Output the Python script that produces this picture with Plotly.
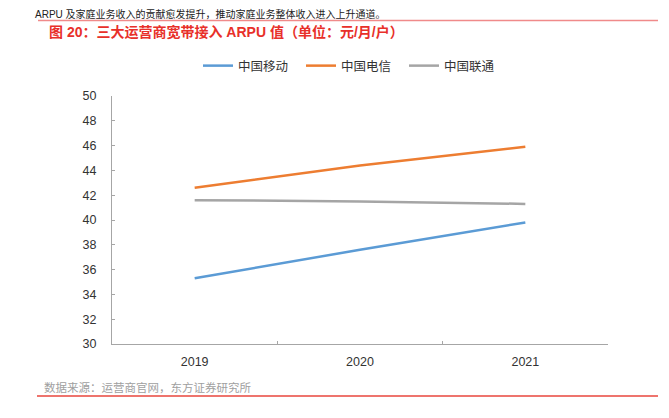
import plotly.graph_objects as go

years = ["2019", "2020", "2021"]
mobile = [35.3, 37.6, 39.8]
telecom = [42.6, 44.4, 45.9]
unicom = [41.6, 41.5, 41.3]

names = ["中国移动", "中国电信", "中国联通"]
line_colors = ["#5B9BD5", "#ED7D31", "#A5A5A5"]

# page has an 8px body margin, so everything is laid out 8px up/left
OFF = 8
W, H = 669 - OFF, 418 - OFF
L, R, T, B = 112 - OFF, 61, 96 - OFF, 74
pw, ph = W - L - R, H - T - B


def px_x(x):
    return (x - OFF - L) / pw


def px_y(y):
    return (H - B - (y - OFF)) / ph


fig = go.Figure()
for name, vals, c in zip(names, [mobile, telecom, unicom], line_colors):
    fig.add_trace(go.Scatter(x=years, y=vals, name=name, mode="lines",
                             line=dict(color=c, width=2.5)))

fig.update_layout(
    width=W, height=H,
    margin=dict(l=L, r=R, t=T, b=B),
    paper_bgcolor="white", plot_bgcolor="white",
    font=dict(family="Liberation Sans, Noto Sans CJK SC", size=12.5, color="#333333"),
    showlegend=True,
    legend=dict(orientation="h", x=px_x(198), xanchor="left",
                y=px_y(66), yanchor="middle", font=dict(size=12.5, color="#333333"),
                itemwidth=30, entrywidth=58),
)

fig.update_xaxes(type="category", range=[-0.5, 2.5], showline=True, linecolor="#a6a6a6",
                 linewidth=1, ticks="inside", ticklen=3, tickcolor="#a6a6a6",
                 tickson="boundaries", showgrid=False, ticklabelstandoff=6)
fig.update_yaxes(range=[30, 50], dtick=2, showline=True, linecolor="#a6a6a6",
                 linewidth=1, ticks="inside", ticklen=3, tickcolor="#a6a6a6",
                 showgrid=False, zeroline=False, ticklabelstandoff=12)

# header / footer text
fig.add_annotation(text="ARPU 及家庭业务收入的贡献愈发提升，推动家庭业务整体收入进入上升通道。",
                   xref="paper", yref="paper", x=px_x(33), y=px_y(14),
                   xanchor="left", yanchor="middle", showarrow=False,
                   font=dict(size=10, color="#222222"))
fig.add_annotation(text="图 20：三大运营商宽带接入 ARPU 值（单位：元/月/户）",
                   xref="paper", yref="paper", x=px_x(47), y=px_y(32),
                   xanchor="left", yanchor="middle", showarrow=False,
                   font=dict(size=14, color="#E8302A", weight="bold"))
fig.add_annotation(text="数据来源：运营商官网，东方证券研究所",
                   xref="paper", yref="paper", x=px_x(42), y=px_y(387),
                   xanchor="left", yanchor="middle", showarrow=False,
                   font=dict(size=11.5, color="#a0a0a0"))

fig.add_shape(type="line", xref="paper", yref="paper",
              x0=px_x(38), x1=px_x(658), y0=px_y(20.5), y1=px_y(20.5),
              line=dict(color="#F08A8A", width=1.5))
fig.add_shape(type="line", xref="paper", yref="paper",
              x0=px_x(37), x1=px_x(658), y0=px_y(396), y1=px_y(396),
              line=dict(color="#E8463C", width=1.5))

fig.write_html("out.html")
